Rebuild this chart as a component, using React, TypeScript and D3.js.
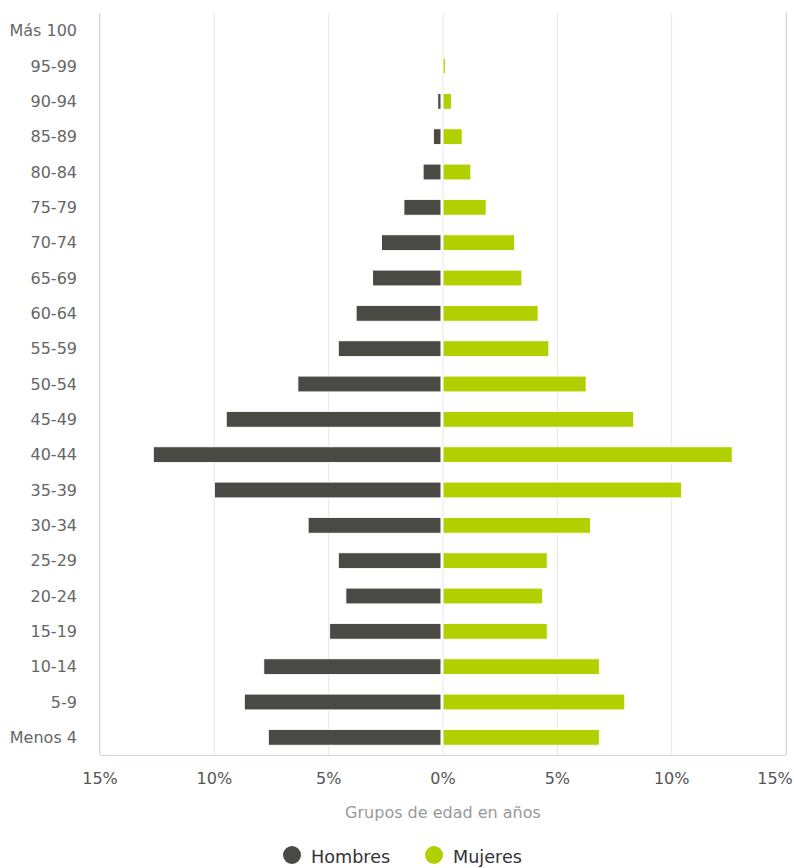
import React from "react";
import { scaleLinear, scaleBand } from "d3";

// age groups, top to bottom
const ageGroups = [
  "Más 100", "95-99", "90-94", "85-89", "80-84", "75-79", "70-74", "65-69",
  "60-64", "55-59", "50-54", "45-49", "40-44", "35-39", "30-34", "25-29",
  "20-24", "15-19", "10-14", "5-9", "Menos 4",
];
const hombres = [
  0, 0, 0.23, 0.42, 0.87, 1.71, 2.69, 3.08, 3.8, 4.58, 6.35, 9.48, 12.67,
  10.0, 5.9, 4.58, 4.25, 4.96, 7.84, 8.69, 7.64,
];
const mujeres = [
  0, 0.1, 0.37, 0.84, 1.22, 1.89, 3.13, 3.45, 4.16, 4.63, 6.26, 8.34, 12.65,
  10.43, 6.45, 4.56, 4.36, 4.56, 6.84, 7.95, 6.84,
];
const ticks = [-15, -10, -5, 0, 5, 10, 15];
const series = [
  { name: "Hombres", color: "#4a4a45" },
  { name: "Mujeres", color: "#b2d000" },
];

const W = 794;
const H = 868;
const font = "'DejaVu Sans', sans-serif";

export default function App() {
  const left = 100, right = 786, top = 13, bottom = 755;

  const x = scaleLinear().domain([-15, 15]).range([left, right]);
  const y = scaleBand()
    .domain(ageGroups)
    .range([top, bottom])
    .paddingInner(0.55)
    .paddingOuter(0.275);
  const row = scaleBand().domain(ageGroups).range([top, bottom]);

  return (
    <svg
      width={W}
      height={H}
      style={{ position: "absolute", left: 0, top: 0, display: "block", fontFamily: font }}
    >
      <rect width={W} height={H} fill="#fff" />

      {/* grid */}
      {ticks.map((t) => (
        <line key={t} x1={x(t)} x2={x(t)} y1={top} y2={bottom} stroke="#e6e6e6" />
      ))}
      <line x1={left - 0.5} x2={left - 0.5} y1={top} y2={bottom} stroke="#ccd6eb" />
      <line x1={right + 0.5} x2={right + 0.5} y1={top} y2={bottom} stroke="#ccd6eb" />
      <line x1={left} x2={right} y1={bottom + 0.5} y2={bottom + 0.5} stroke="#ccd6eb" />

      {/* bars */}
      {ageGroups.map((g, i) =>
        hombres[i] > 0 ? (
          <rect
            key={"h" + g}
            x={x(-hombres[i])}
            y={y(g)}
            width={x(0) - 2 - x(-hombres[i])}
            height={y.bandwidth()}
            fill={series[0].color}
            stroke="#fff"
            strokeWidth={1}
          />
        ) : null
      )}
      {ageGroups.map((g, i) =>
        mujeres[i] > 0 ? (
          <rect
            key={"m" + g}
            x={x(0)}
            y={y(g)}
            width={x(mujeres[i]) - x(0)}
            height={y.bandwidth()}
            fill={series[1].color}
            stroke="#fff"
            strokeWidth={1}
          />
        ) : null
      )}

      {/* y labels */}
      {ageGroups.map((g) => (
        <text
          key={"l" + g}
          x={77}
          y={(row(g) as number) + row.bandwidth() / 2}
          textAnchor="end"
          dominantBaseline="central"
          fontSize={16}
          fill="#666"
        >
          {g}
        </text>
      ))}

      {/* x tick labels */}
      {ticks.map((t) => (
        <text
          key={"t" + t}
          x={Math.min(x(t), 775)}
          y={778}
          textAnchor="middle"
          dominantBaseline="central"
          fontSize={16}
          fill="#555"
        >
          {Math.abs(t) + "%"}
        </text>
      ))}

      <text
        x={x(0)}
        y={812}
        textAnchor="middle"
        dominantBaseline="central"
        fontSize={16}
        fill="#999"
      >
        Grupos de edad en años
      </text>

      {/* legend */}
      {series.map((s, i) => {
        const cx = i === 0 ? 292 : 434;
        return (
          <g key={s.name}>
            <circle cx={cx} cy={855} r={9} fill={s.color} />
            <text
              x={cx + 19}
              y={857}
              dominantBaseline="central"
              fontSize={17.6}
              fill="#333"
            >
              {s.name}
            </text>
          </g>
        );
      })}
    </svg>
  );
}
